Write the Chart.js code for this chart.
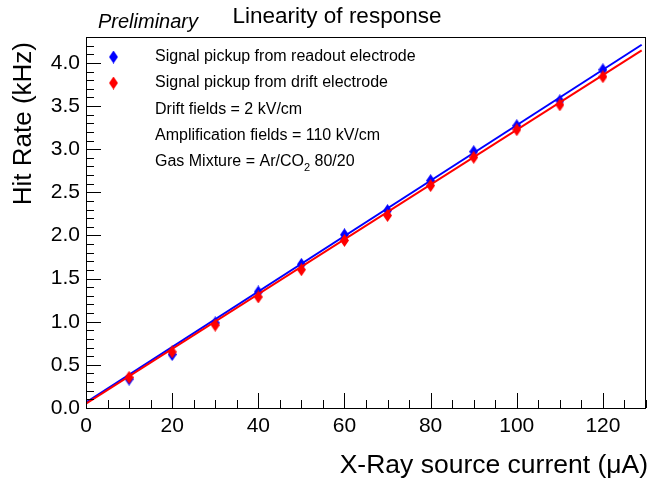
<!DOCTYPE html>
<html>
<head>
<meta charset="utf-8">
<script src="https://cdn.jsdelivr.net/npm/chart.js@4/dist/chart.umd.min.js"></script>
<style>
html,body{margin:0;padding:0;background:#fff;}
#wrap{width:651px;height:483px;position:relative;}
</style>
</head>
<body>
<div id="wrap"><canvas id="c" width="651" height="483"></canvas></div>
<script>
// ---- data ----
const currents = [10, 20, 30, 40, 50, 60, 70, 80, 90, 100, 110, 120];
const readoutRate = [0.335, 0.62, 0.986, 1.345, 1.665, 2.008, 2.289, 2.636, 2.971, 3.272, 3.561, 3.92];
const driftRate   = [0.355, 0.65, 0.96, 1.287, 1.603, 1.942, 2.231, 2.578, 2.905, 3.225, 3.514, 3.84];
const fitX = [0, 129];
const readoutFit = [0.065, 4.21];
const driftFit = [0.05, 4.145];
const xTicks = [0, 20, 40, 60, 80, 100, 120];
const yTicks = [0.0, 0.5, 1.0, 1.5, 2.0, 2.5, 3.0, 3.5, 4.0];
const legendLines = [
  'Signal pickup from readout electrode',
  'Signal pickup from drift electrode',
  'Drift fields = 2 kV/cm',
  'Amplification fields = 110 kV/cm'
];
const titleText = 'Linearity of response';
const prelimText = 'Preliminary';
const xTitle = 'X-Ray source current (\u03BCA)';
const yTitle = 'Hit Rate (kHz)';

const FONT = '"Liberation Sans", Arial, Helvetica, sans-serif';
const LFS = 16;

function diamond(color){
  const c = document.createElement('canvas');
  c.width = 9; c.height = 13;
  const g = c.getContext('2d');
  g.fillStyle = color;
  g.beginPath();
  g.moveTo(4.5,0); g.lineTo(9,6.5); g.lineTo(4.5,13); g.lineTo(0,6.5); g.closePath();
  g.fill();
  return c;
}
const blueD = diamond('#0000ff');
const redD = diamond('#ff0000');

const pts = (xs, ys) => xs.map((x,i)=>({x:x, y:ys[i]}));

const framePlugin = {
  id:'frame',
  afterDraw(chart){
    const {ctx, chartArea:a, scales:{x, y}} = chart;
    ctx.save();
    ctx.strokeStyle = '#000';
    ctx.lineWidth = 1;
    ctx.strokeRect(a.left+0.5, a.top+0.5, a.right-a.left-1, a.bottom-a.top);
    // y ticks
    for (let v = 0; v <= 4.3001; v += 0.1) {
      const py = Math.round(y.getPixelForValue(v)) + 0.5;
      const major = Math.abs(v*2 - Math.round(v*2)) < 1e-6;
      const len = major ? 15 : 8;
      ctx.beginPath(); ctx.moveTo(a.left, py); ctx.lineTo(a.left+len, py); ctx.stroke();
    }
    // x ticks
    for (let v = 0; v <= 130.001; v += 5) {
      const px = Math.round(x.getPixelForValue(v)) + 0.5;
      const major = v % 20 === 0;
      const len = major ? 15 : 8;
      ctx.beginPath(); ctx.moveTo(px, a.bottom); ctx.lineTo(px, a.bottom-len); ctx.stroke();
    }
    // titles
    ctx.fillStyle = '#000';
    ctx.textBaseline = 'alphabetic';
    ctx.font = '22.5px ' + FONT;
    ctx.textAlign = 'center';
    ctx.fillText(titleText, 337, 23);
    ctx.font = 'italic 20px ' + FONT;
    ctx.textAlign = 'left';
    ctx.fillText(prelimText, 98, 28);
    // axis titles
    ctx.font = '26.5px ' + FONT;
    ctx.textAlign = 'right';
    ctx.fillText(xTitle, 648, 473);
    ctx.save();
    ctx.translate(31, 42);
    ctx.rotate(-Math.PI/2);
    ctx.font = '26px ' + FONT;
    ctx.textAlign = 'right';
    ctx.fillText(yTitle, 0, 0);
    ctx.restore();
    // legend
    ctx.font = LFS + 'px ' + FONT;
    ctx.textAlign = 'left';
    ctx.textBaseline = 'middle';
    const ly = [57, 83, 110, 136, 162];
    ctx.drawImage(blueD, 109, ly[0]-6.5);
    ctx.drawImage(redD, 109, ly[1]-6.5);
    for (let i=0;i<legendLines.length;i++) ctx.fillText(legendLines[i], 155, ly[i]);
    // gas mixture with subscript
    let gx = 155;
    const p1 = 'Gas Mixture = Ar/CO';
    ctx.fillText(p1, gx, ly[4]);
    gx += ctx.measureText(p1).width;
    ctx.font = '11px ' + FONT;
    ctx.fillText('2', gx, ly[4]+6);
    gx += ctx.measureText('2').width;
    ctx.font = LFS + 'px ' + FONT;
    ctx.fillText(' 80/20', gx, ly[4]);
    ctx.restore();
  }
};

new Chart(document.getElementById('c'), {
  type: 'scatter',
  data: {
    datasets: [
      { label:'drift fit', type:'line', data: pts(fitX, driftFit), borderColor:'#ff0000', borderWidth:2, pointRadius:0, order:0 },
      { label:'readout fit', type:'line', data: pts(fitX, readoutFit), borderColor:'#0000ff', borderWidth:2, pointRadius:0, order:3 },
      { label:'drift', data: pts(currents, driftRate), pointStyle: redD, borderColor:'#ff0000', backgroundColor:'#ff0000', order:1 },
      { label:'readout', data: pts(currents, readoutRate), pointStyle: blueD, borderColor:'#0000ff', backgroundColor:'#0000ff', order:2 }
    ]
  },
  options: {
    responsive:false,
    animation:false,
    events:[],
    layout:{ padding:{ top:37, right:4, left:0, bottom:0 } },
    plugins:{ legend:{display:false}, tooltip:{enabled:false}, title:{display:false} },
    scales:{
      x:{
        type:'linear', min:0, max:130,
        grid:{ display:false, drawTicks:false },
        border:{ display:false },
        afterBuildTicks:(s)=>{ s.ticks = xTicks.map(v=>({value:v})); },
        ticks:{ autoSkip:false, color:'#000', padding:6, maxRotation:0, font:{ family:FONT, size:21 },
          callback:(v)=> String(v) },
        afterFit:(s)=>{ s.height = 75; }
      },
      y:{
        type:'linear', min:0, max:4.3,
        grid:{ display:false, drawTicks:false },
        border:{ display:false },
        afterBuildTicks:(s)=>{ s.ticks = yTicks.map(v=>({value:v})); },
        ticks:{ autoSkip:false, color:'#000', padding:6, font:{ family:FONT, size:21 },
          callback:(v)=> Number(v).toFixed(1) },
        afterFit:(s)=>{ s.width = 86; }
      }
    }
  },
  plugins:[framePlugin]
});
</script>
</body>
</html>
